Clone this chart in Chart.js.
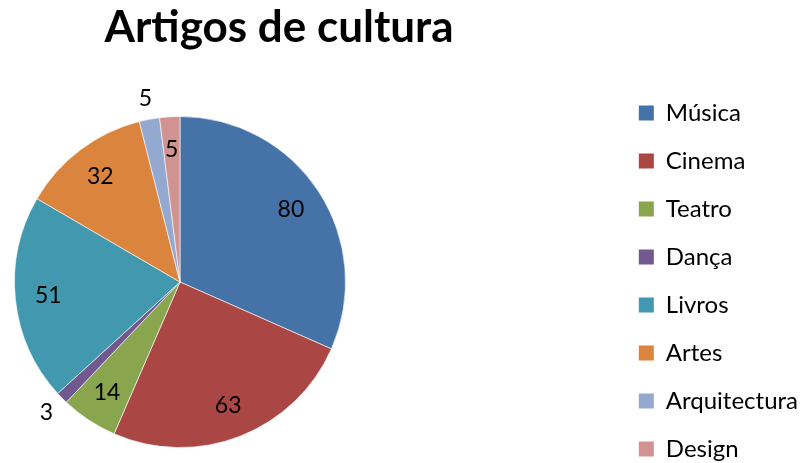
<!DOCTYPE html>
<html>
<head>
<meta charset="utf-8">
<title>Artigos de cultura</title>
<script src="https://cdn.jsdelivr.net/npm/chart.js@4.4.0/dist/chart.umd.min.js"></script>
<style>
  body { margin: 0; background: #fff; }
  #wrap { width: 803px; height: 463px; }
</style>
</head>
<body>
<div id="wrap"><canvas id="culturaChart" width="803" height="463"></canvas></div>
<script>
// Chart data
const chartTitle = 'Artigos de cultura';
const categories = ['Música', 'Cinema', 'Teatro', 'Dança', 'Livros', 'Artes', 'Arquitectura', 'Design'];
const artigos = [80, 63, 14, 3, 51, 32, 5, 5];
const sliceColors = ['#4572A7', '#AA4643', '#89A54E', '#71588F', '#4198AF', '#DB843D', '#93A9CF', '#D19392'];
// slices too thin for an inside label
const outsideLabels = ['Dança', 'Arquitectura'];

const FONT = 'Lato, "Open Sans", sans-serif';

// Pie square on the left, title centred over the pie, legend nudged down
const pieBox = {
    id: 'pieBox',
    afterLayout: (chart) => {
        const a = chart.chartArea;
        a.left = 14;
        a.top = 116;
        a.right = 346;
        a.bottom = 448;
        a.width = a.right - a.left;
        a.height = a.bottom - a.top;
        chart.titleBlock.left = 0;
        chart.titleBlock.right = 558;
        const lg = chart.legend;
        lg.top += 77;
        lg.bottom += 77;
        lg.left += 7;
        lg.right += 7;
    }
};

// Value labels on the slices
const sliceLabels = {
    id: 'sliceLabels',
    afterDatasetsDraw: (chart) => {
        const ctx = chart.ctx;
        const meta = chart.getDatasetMeta(0);
        ctx.save();
        ctx.font = '23px ' + FONT;
        ctx.fillStyle = '#000';
        ctx.textAlign = 'center';
        ctx.textBaseline = 'middle';
        meta.data.forEach((arc, i) => {
            const p = arc.getProps(['x', 'y', 'startAngle', 'endAngle', 'outerRadius'], true);
            const mid = (p.startAngle + p.endAngle) / 2;
            const r = outsideLabels.includes(categories[i]) ? p.outerRadius * 1.13 : p.outerRadius * 0.8;
            ctx.fillText(String(artigos[i]), p.x + Math.cos(mid) * r, p.y + Math.sin(mid) * r);
        });
        ctx.restore();
    }
};

const initializeChart = () => {
    const ctx = document.getElementById('culturaChart').getContext('2d');
    new Chart(ctx, {
        type: 'pie',
        data: {
            labels: categories,
            datasets: [{
                data: artigos,
                backgroundColor: sliceColors,
                borderColor: 'rgba(255,255,255,0.6)',
                borderWidth: 1
            }]
        },
        options: {
            responsive: false,
            animation: false,
            layout: {
                padding: { left: 14, right: 2, top: 0, bottom: 0 }
            },
            plugins: {
                title: {
                    display: true,
                    text: chartTitle,
                    color: '#000',
                    font: { family: FONT, size: 44, weight: 'bold', lineHeight: 1 },
                    padding: { top: 6, bottom: 66 }
                },
                legend: {
                    position: 'right',
                    align: 'start',
                    labels: {
                        color: '#000',
                        font: { family: FONT, size: 24 },
                        boxWidth: 15,
                        boxHeight: 15,
                        padding: 24,
                        generateLabels: (chart) => Chart.overrides.pie.plugins.legend.labels
                            .generateLabels(chart).map(item => ({ ...item, lineWidth: 0 }))
                    }
                },
                tooltip: { enabled: false }
            }
        },
        plugins: [pieBox, sliceLabels]
    });
};

document.addEventListener('DOMContentLoaded', initializeChart);
</script>
</body>
</html>
